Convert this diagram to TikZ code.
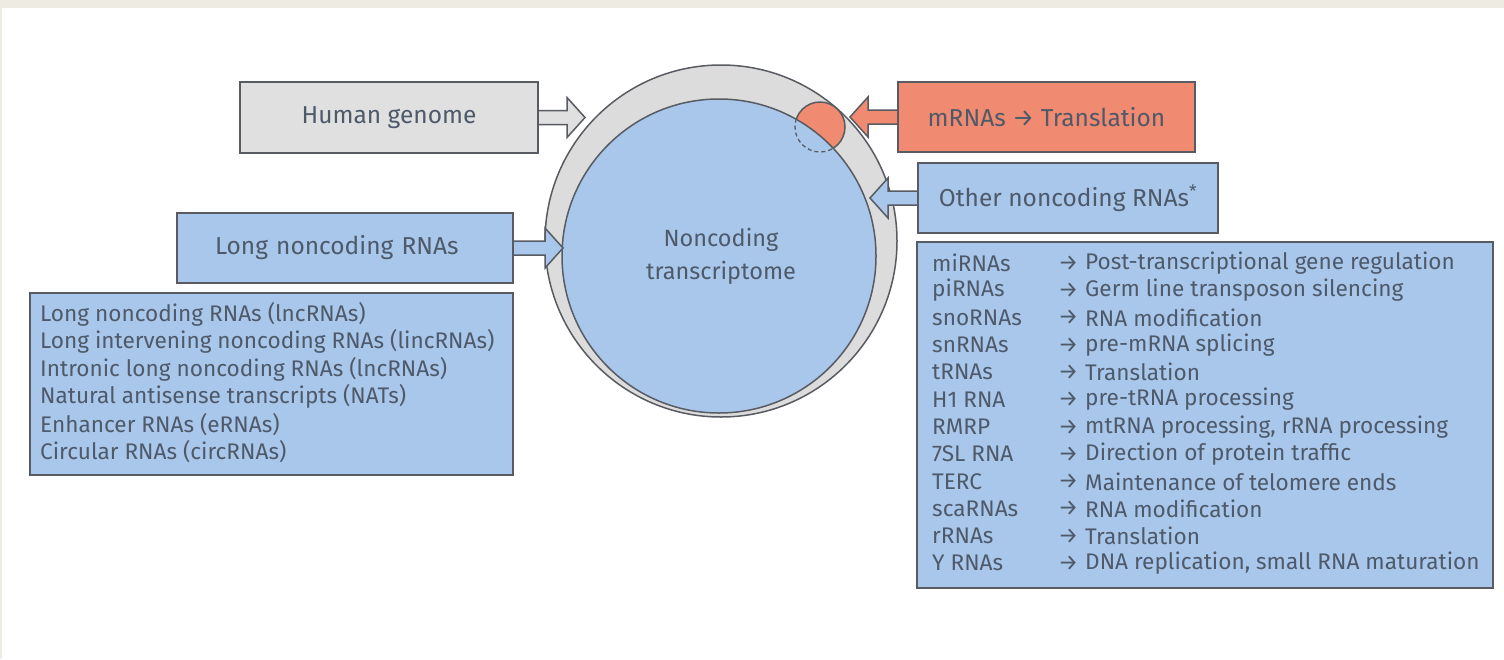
\documentclass[tikz,border=0pt]{standalone}
\usepackage{fontspec}
\setmainfont{Fira Sans}
\usetikzlibrary{calc}
\definecolor{bgbeige}{RGB}{238,235,227}
\definecolor{boxblue}{RGB}{169,198,235}
\definecolor{boxgray}{RGB}{224,224,224}
\definecolor{ringgray}{RGB}{220,220,220}
\definecolor{boxorange}{RGB}{240,138,112}
\definecolor{edgegray}{RGB}{88,92,98}
\definecolor{txt}{RGB}{78,90,106}
\newcommand{\blkarrow}[3]{%
  \draw[#1] let \p1=#2, \p2=#3, \n1={sign(\x2-\x1)} in
    (\x1,\y1+7pt) -- (\x2-\n1*18pt,\y1+7pt) -- (\x2-\n1*18pt,\y1+20pt) -- (\x2,\y1)
    -- (\x2-\n1*18pt,\y1-20pt) -- (\x2-\n1*18pt,\y1-7pt) -- (\x1,\y1-7pt) -- cycle;}
\begin{document}
\begin{tikzpicture}[x=1pt,y=-1pt,
  every node/.style={text=txt},
  box/.style={draw=edgegray, line width=1.8pt, inner sep=0pt, font=\fontsize{24.5}{28}\selectfont},
  listtxt/.style={anchor=west, inner sep=0pt, font=\fontsize{22.6}{26}\selectfont},
  arr/.style={draw=edgegray, line width=1.5pt, line join=miter}]
\useasboundingbox (0,0) rectangle (1504,659);
\fill[bgbeige] (0,0) rectangle (1504,659);
\fill[white] (2,8) rectangle (1504,659);

% circles
\node[circle, draw=edgegray, line width=1.5pt, fill=ringgray, minimum size=352pt, inner sep=0pt] (genome) at (721,241) {};
\node[circle, draw=edgegray, line width=1.5pt, fill=boxorange, minimum size=50pt, inner sep=0pt] (mrna) at (820,127) {};
\node[circle, draw=edgegray, line width=1.5pt, fill=boxblue, minimum size=314pt, inner sep=0pt] (ncrna) at (719,256) {};
\begin{scope}
  \clip (719,256) circle (156pt);
  \draw[edgegray, line width=1.3pt, dash pattern=on 4pt off 3pt] (820,127) circle (25pt);
\end{scope}
\node[align=center, font=\fontsize{23.5}{33}\selectfont] (nclabel) at (721,256) {Noncoding\\transcriptome};

% tips
\coordinate (hgtip) at (585,117.5);
\coordinate (mtip) at (850,117);
\coordinate (otip) at (870,198);
\coordinate (ltip) at (563,248);

% boxes (positions)
\path node[box, fill=boxgray, minimum width=298pt, minimum height=71pt] (hg) at (389,117.5) {};
\path node[box, fill=boxorange, minimum width=297pt, minimum height=70pt] (mr) at (1046.5,117) {};
\path node[box, fill=boxblue, minimum width=300pt, minimum height=70pt] (other) at (1068,198) {};
\path node[box, fill=boxblue, minimum width=336pt, minimum height=70pt] (lnc) at (345,248) {};

% arrows
\blkarrow{arr, fill=boxgray}{($(hg.east)+(-3,0)$)}{(hgtip)}
\blkarrow{arr, fill=boxorange}{($(mr.west)+(3,0)$)}{(mtip)}
\blkarrow{arr, fill=boxblue}{($(other.west)+(3,0)$)}{(otip)}
\blkarrow{arr, fill=boxblue}{($(lnc.east)+(-3,0)$)}{(ltip)}

% boxes drawn on top with their labels
\node[box, fill=boxgray, minimum width=298pt, minimum height=71pt] (hgl) at (hg) {Human genome};
\node[box, fill=boxorange, minimum width=297pt, minimum height=70pt] (mrl) at (mr) {mRNAs → Translation};
\node[box, fill=boxblue, minimum width=300pt, minimum height=70pt] (otherl) at (other) {Other noncoding RNAs\textsuperscript{*}};
\node[box, fill=boxblue, minimum width=336pt, minimum height=70pt, text width=336pt, align=left] (lncl) at (lnc) {\hspace*{38pt}Long noncoding RNAs};

% left list
\node[box, fill=boxblue, minimum width=483pt, minimum height=182pt] (llist) at (271.5,384) {};
\foreach \t [count=\i from 0] in {Long noncoding RNAs (lncRNAs),
  Long intervening noncoding RNAs (lincRNAs),
  Intronic long noncoding RNAs (lncRNAs),
  Natural antisense transcripts (NATs),
  Enhancer RNAs (eRNAs),
  Circular RNAs (circRNAs)}
  \node[listtxt] (l\i) at (40,{314+27.6*\i}) {\t};

% right list
\node[box, fill=boxblue, minimum width=576pt, minimum height=346pt] (rlist) at (1205,415) {};
\foreach \n/\d [count=\i from 0] in {miRNAs/Post-transcriptional gene regulation,
  piRNAs/Germ line transposon silencing,
  snoRNAs/RNA modification,
  snRNAs/pre-mRNA splicing,
  tRNAs/Translation,
  H1 RNA/pre-tRNA processing,
  RMRP/{mtRNA processing, rRNA processing},
  7SL RNA/Direction of protein traffic,
  TERC/Maintenance of telomere ends,
  scaRNAs/RNA modification,
  rRNAs/Translation,
  Y RNAs/{DNA replication, small RNA maturation}}
{
  \node[listtxt] (rn\i) at (932,{263+27.3*\i}) {\n};
  \node[listtxt] (ra\i) at (1058,{263+27.3*\i}) {→};
  \node[listtxt] (rd\i) at (1085,{263+27.3*\i}) {\d};
}
\end{tikzpicture}
\end{document}
